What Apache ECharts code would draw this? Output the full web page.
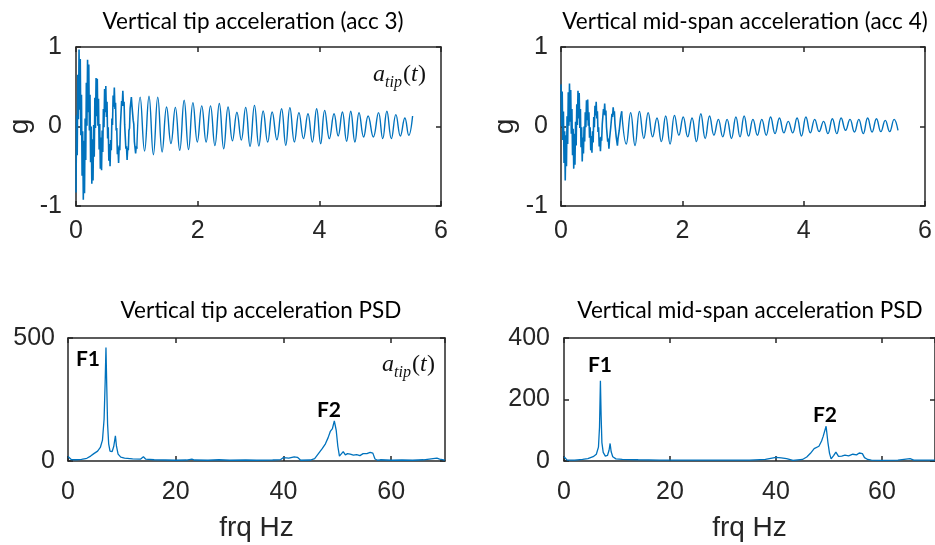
<!DOCTYPE html>
<html>
<head>
<meta charset="utf-8">
<script src="https://cdn.jsdelivr.net/npm/echarts/dist/echarts.min.js"></script>
<style>
  html, body { margin: 0; padding: 0; background: #ffffff; }
  #chart { width: 935px; height: 545px; }
</style>
</head>
<body>
<div id="chart"></div>
<script>
// ---- Time records (g) ----
// Early, densely sampled part of each record (one value every 10 ms from t = 0 s)
const sampleStep = 0.01;
const tipEarlyG = [
  -0.83, 0.14, -0.36, 0.65, 0.09, 0.97, 0.21, 0.85, -0.11, 0.40,
  -0.62, -0.06, -0.92, -0.18, -0.84, 0.10, -0.42, 0.55, 0.01, 0.84,
  0.18, 0.78, -0.05, 0.40, -0.45, 0.00, -0.72, -0.16, -0.68, 0.02,
  -0.38, 0.36, -0.02, 0.61, 0.13, 0.60, 0.01, 0.35, -0.29, 0.03,
  -0.53, -0.14, -0.55, -0.05, -0.32, 0.22, -0.01, 0.47, 0.18, 0.51,
  0.12, 0.31, -0.15, -0.01, -0.43, -0.22, -0.50, -0.17, -0.30, 0.10,
  0.02, 0.39, 0.25, 0.49, 0.22, 0.30, -0.05, -0.02, -0.35, -0.26,
  -0.46, -0.24, -0.30, 0.01, 0.01, 0.32, 0.26, 0.45, 0.26, 0.31,
  0.02, 0.00, -0.28, -0.25, -0.42, -0.27, -0.30, -0.05, -0.02, 0.23,
  0.23, 0.37, 0.26, 0.28, 0.08, 0.03, -0.19, -0.20, -0.34, -0.25,
  -0.28
];
const midEarlyG = [
  0.53, 0.00, 0.44, -0.17, 0.19, -0.46, -0.06, -0.68, -0.11, -0.50,
  0.13, -0.22, 0.43, 0.01, 0.54, 0.06, 0.46, -0.09, 0.22, -0.36,
  -0.03, -0.53, -0.09, -0.48, 0.06, -0.24, 0.28, 0.02, 0.45, 0.10,
  0.42, -0.02, 0.22, -0.26, -0.01, -0.44, -0.14, -0.34, 0.00, -0.19,
  0.18, -0.01, 0.33, 0.08, 0.34, 0.01, 0.18, -0.14, -0.01, -0.30,
  -0.12, -0.33, -0.06, -0.20, 0.12, -0.01, 0.26, 0.14, 0.31, 0.10,
  0.19, -0.07, -0.01, -0.25, -0.14, -0.31, -0.13, -0.18, 0.03, 0.01,
  0.22, 0.15, 0.29, 0.14, 0.20, -0.01, 0.00, -0.19, -0.15, -0.28,
  -0.16, -0.18, -0.01, -0.02, 0.16, 0.12, 0.24, 0.15, 0.19, 0.03,
  0.03, -0.13, -0.12, -0.24, -0.15, -0.17, -0.05, -0.03, 0.10, 0.10,
  0.19
];

// Later free-decay part: successive peaks and troughs (time s, value g)
const tipLateT = [
  1.055, 1.127, 1.200, 1.272, 1.344, 1.416, 1.489, 1.561, 1.633, 1.705,
  1.778, 1.850, 1.922, 1.994, 2.067, 2.139, 2.211, 2.283, 2.356, 2.428,
  2.500, 2.572, 2.645, 2.717, 2.789, 2.861, 2.934, 3.006, 3.077, 3.151,
  3.225, 3.302, 3.379, 3.448, 3.516, 3.590, 3.665, 3.739, 3.813, 3.885,
  3.956, 4.022, 4.088, 4.165, 4.242, 4.310, 4.379, 4.448, 4.516, 4.585,
  4.653, 4.728, 4.802, 4.888, 4.973, 5.042, 5.110, 5.184, 5.258, 5.332,
  5.406, 5.470, 5.533
];
const tipLateG = [
  0.37, -0.31, 0.38, -0.355, 0.37, -0.32, 0.245, -0.215, 0.24, -0.30,
  0.33, -0.29, 0.30, -0.195, 0.26, -0.195, 0.26, -0.24, 0.29, -0.28,
  0.245, -0.18, 0.18, -0.17, 0.24, -0.25, 0.266, -0.245, 0.195, -0.195,
  0.182, -0.166, 0.224, -0.237, 0.237, -0.195, 0.174, -0.153, 0.161, -0.195,
  0.224, -0.216, 0.203, -0.153, 0.161, -0.119, 0.182, -0.186, 0.191, -0.195,
  0.174, -0.132, 0.132, -0.132, 0.174, -0.153, 0.191, -0.153, 0.149, -0.119,
  0.107, -0.111, 0.132
];
const midLateT = [
  1.076, 1.148, 1.220, 1.293, 1.365, 1.437, 1.510, 1.582, 1.654, 1.726,
  1.798, 1.871, 1.943, 2.015, 2.088, 2.160, 2.232, 2.305, 2.377, 2.449,
  2.521, 2.594, 2.666, 2.738, 2.810, 2.883, 2.951, 3.019, 3.092, 3.164,
  3.237, 3.310, 3.383, 3.455, 3.528, 3.601, 3.674, 3.746, 3.819, 3.891,
  3.964, 4.037, 4.110, 4.182, 4.255, 4.328, 4.400, 4.473, 4.546, 4.618,
  4.691, 4.764, 4.837, 4.909, 4.982, 5.055, 5.128, 5.200, 5.273, 5.345,
  5.418, 5.491, 5.555
];
const midLateG = [
  -0.22, 0.174, -0.24, 0.19, -0.15, 0.174, -0.13, 0.107, -0.19, 0.132,
  -0.22, 0.14, -0.11, 0.12, -0.13, 0.107, -0.19, 0.16, -0.15, 0.132,
  -0.11, 0.09, -0.13, 0.09, -0.15, 0.12, -0.13, 0.132, -0.12, 0.09,
  -0.11, 0.09, -0.11, 0.12, -0.09, 0.107, -0.08, 0.065, -0.08, 0.107,
  -0.12, 0.12, -0.08, 0.09, -0.065, 0.065, -0.09, 0.098, -0.09, 0.107,
  -0.048, 0.09, -0.07, 0.09, -0.09, 0.107, -0.07, 0.098, -0.065, 0.077,
  -0.065, 0.09, -0.05
];

// ---- Power spectral densities ----
const tipPsdHz = [
  0, 0.3, 0.6, 1.5, 2.5, 3.5, 4.2, 4.8, 5.5, 6.0,
  6.4, 6.7, 6.9, 7.05, 7.2, 7.35, 7.55, 7.8, 8.2, 8.5,
  8.8, 9.0, 9.3, 9.8, 10.5, 12, 13.5, 14.0, 14.4, 16,
  18, 20, 22, 23, 23.5, 26, 28, 30, 33, 35,
  38, 39.5, 40, 41, 42, 42.6, 43.2, 45, 45.8, 46.5,
  47.2, 47.8, 48.3, 48.7, 49.1, 49.45, 49.8, 50.1, 50.4, 50.7,
  51.1, 51.5, 51.9, 52.4, 53, 53.6, 54.2, 54.8, 55.5, 56.1,
  56.6, 57.0, 57.5, 58, 60, 62, 64, 66, 68.5, 69, 70
];
const tipPsd = [
  18, 10, 6, 5, 7, 11, 20, 30, 40, 55,
  85, 170, 320, 461, 300, 150, 70, 40, 38, 60,
  102, 60, 28, 16, 12, 9, 8, 17, 8, 5,
  4, 3, 4, 8, 4, 3, 5, 3, 4, 3,
  4, 6, 14, 12, 17, 15, 3, 4, 10, 30,
  50, 70, 95, 120, 132, 163, 125, 60, 20, 12,
  38, 25, 30, 28, 24, 26, 22, 30, 30, 35,
  32, 8, 3, 5, 3, 4, 3, 5, 12, 8, 4
];
const midPsdHz = [
  0, 0.3, 0.6, 2, 3.5, 4.5, 5.5, 6.1, 6.5, 6.7,
  6.87, 7.0, 7.15, 7.4, 7.8, 8.2, 8.5, 8.7, 8.9, 9.2,
  9.8, 11, 14, 18, 25, 30, 35, 38, 40, 41,
  42, 43.2, 45, 45.8, 46.5, 47.2, 48.1, 48.6, 48.9, 49.2,
  49.45, 49.8, 50.1, 50.4, 50.9, 51.3, 51.8, 52.4, 53, 53.7,
  54.5, 55.2, 55.7, 56.3, 56.7, 57.3, 58, 60, 63, 65.3, 66, 70
];
const midPsd = [
  14, 8, 3, 3, 5, 8, 14, 22, 45, 110,
  261, 150, 60, 28, 16, 18, 35, 57, 30, 14,
  7, 5, 4, 3, 3, 3, 3, 5, 12, 10,
  8, 2, 5, 13, 25, 40, 48, 65, 80, 85,
  113, 60, 25, 7, 18, 29, 15, 16, 19, 17,
  22, 20, 26, 24, 11, 5, 3, 2, 3, 8, 3, 3
];

// ---- Axis settings ----
const timeTicks = { min: 0, max: 6, interval: 2 };
const gTicks = { min: -1, max: 1, interval: 1 };
const hzTicks = { min: 0, max: 70, interval: 20 };
const tipPsdTicks = { min: 0, max: 500, interval: 500 };
const midPsdTicks = { min: 0, max: 400, interval: 200 };

const titles = [
  'Vertical tip acceleration (acc 3)',
  'Vertical mid-span acceleration (acc 4)',
  'Vertical tip acceleration PSD',
  'Vertical mid-span acceleration PSD'
];

// ---- Styling ----
const LINE = '#0072BD';
const INK = '#262626';
const tickFont = 'Liberation Sans';
const grids = [
  { left: 76, top: 47, width: 365, height: 159 },
  { left: 561, top: 47, width: 364, height: 159 },
  { left: 68, top: 338, width: 377, height: 123 },
  { left: 564, top: 338, width: 377, height: 123 }
];

const axisLineStyle = { color: INK, width: 1.5 };
function xPair(gi, ticks, labelMargin, name) {
  const base = {
    type: 'value', gridIndex: gi, min: ticks.min, max: ticks.max, interval: ticks.interval,
    splitLine: { show: false },
    axisLine: { show: true, onZero: false, lineStyle: axisLineStyle },
    axisTick: { show: true, inside: true, length: 5, lineStyle: axisLineStyle }
  };
  const bottom = Object.assign({}, base, {
    position: 'bottom',
    axisLabel: { color: INK, fontFamily: tickFont, fontSize: 25, margin: labelMargin, showMaxLabel: ticks.max % ticks.interval === 0 }
  });
  if (name) {
    bottom.name = name;
    bottom.nameLocation = 'middle';
    bottom.nameGap = 53;
    bottom.nameTextStyle = { color: INK, fontFamily: tickFont, fontSize: 28 };
  }
  const top = Object.assign({}, base, { position: 'top', axisLabel: { show: false } });
  return [bottom, top];
}
function yPair(gi, ticks, labelMargin, name) {
  const base = {
    type: 'value', gridIndex: gi, min: ticks.min, max: ticks.max, interval: ticks.interval,
    splitLine: { show: false },
    axisLine: { show: true, onZero: false, lineStyle: axisLineStyle },
    axisTick: { show: true, inside: true, length: 5, lineStyle: axisLineStyle }
  };
  const left = Object.assign({}, base, {
    position: 'left',
    axisLabel: { color: INK, fontFamily: tickFont, fontSize: 25, margin: labelMargin }
  });
  if (name) {
    left.name = name;
    left.nameLocation = 'middle';
    left.nameGap = 42;
    left.nameTextStyle = { color: INK, fontFamily: tickFont, fontSize: 28 };
  }
  const right = Object.assign({}, base, { position: 'right', axisLabel: { show: false } });
  return [left, right];
}

const xAxis = [].concat(
  xPair(0, timeTicks, 13),
  xPair(1, timeTicks, 13),
  xPair(2, hzTicks, 19, 'frq Hz'),
  xPair(3, hzTicks, 19, 'frq Hz')
);
const yAxis = [].concat(
  yPair(0, gTicks, 14, 'g'),
  yPair(1, gTicks, 13, 'g'),
  yPair(2, tipPsdTicks, 13),
  yPair(3, midPsdTicks, 14)
);

// ---- Series data ----
const early = arr => arr.map((v, i) => [+(i * sampleStep).toFixed(2), v]);
const late = (first, ts, vs) => [first].concat(ts.map((t, i) => [t, vs[i]]));
const pairs = (xs, ys) => xs.map((x, i) => [x, ys[i]]);

const tipEarlyData = early(tipEarlyG);
const midEarlyData = early(midEarlyG);
const tipLateData = late(tipEarlyData[tipEarlyData.length - 1], tipLateT, tipLateG);
const midLateData = late(midEarlyData[midEarlyData.length - 1], midLateT, midLateG);

function lineSeries(gi, data, smooth, width) {
  return {
    type: 'line', xAxisIndex: gi * 2, yAxisIndex: gi * 2, data: data,
    showSymbol: false, symbol: 'none', smooth: smooth || false,
    lineStyle: { color: LINE, width: width || 1.3 }, silent: true
  };
}

const series = [
  lineSeries(0, tipEarlyData, false, 1.6),
  lineSeries(0, tipLateData, 0.45, 1.4),
  lineSeries(1, midEarlyData, false, 1.6),
  lineSeries(1, midLateData, 0.45, 1.4),
  lineSeries(2, pairs(tipPsdHz, tipPsd)),
  lineSeries(3, pairs(midPsdHz, midPsd))
];

// ---- Titles, peak tags and signal symbol ----
function txt(x, y, text, size, opts) {
  return {
    type: 'text', x: x, y: y, silent: true,
    style: Object.assign({
      text: text, fontSize: size, fontFamily: 'Lato', fill: '#000000',
      align: 'center', verticalAlign: 'middle', textAlign: 'center', textVerticalAlign: 'middle'
    }, opts || {})
  };
}
const serif = { fontFamily: 'Liberation Serif', fontStyle: 'italic', align: 'left', textAlign: 'left', fill: '#111111' };
function symbolA(x, y) {
  return [
    txt(x, y, 'a', 24, serif),
    txt(x + 12, y + 8, 'tip', 16, serif),
    txt(x + 30, y, '(', 24, Object.assign({}, serif, { fontStyle: 'normal' })),
    txt(x + 38, y, 't', 24, serif),
    txt(x + 45, y, ')', 24, Object.assign({}, serif, { fontStyle: 'normal' }))
  ];
}
const bold = { fontWeight: 'bold' };
const graphic = [
  txt(253, 22, titles[0], 22.5),
  txt(745, 22, titles[1], 22.5),
  txt(261, 311, titles[2], 22.5),
  txt(750, 311, titles[3], 22.5),
  txt(88, 359, 'F1', 21, bold),
  txt(329, 410, 'F2', 21, bold),
  txt(600, 365, 'F1', 21, bold),
  txt(825, 415, 'F2', 21, bold)
].concat(symbolA(373, 75), symbolA(382, 365));

const chart = echarts.init(document.getElementById('chart'), null, { renderer: 'canvas' });
chart.setOption({
  backgroundColor: '#ffffff',
  animation: false,
  grid: grids,
  xAxis: xAxis,
  yAxis: yAxis,
  series: series,
  graphic: graphic
});
</script>
</body>
</html>
